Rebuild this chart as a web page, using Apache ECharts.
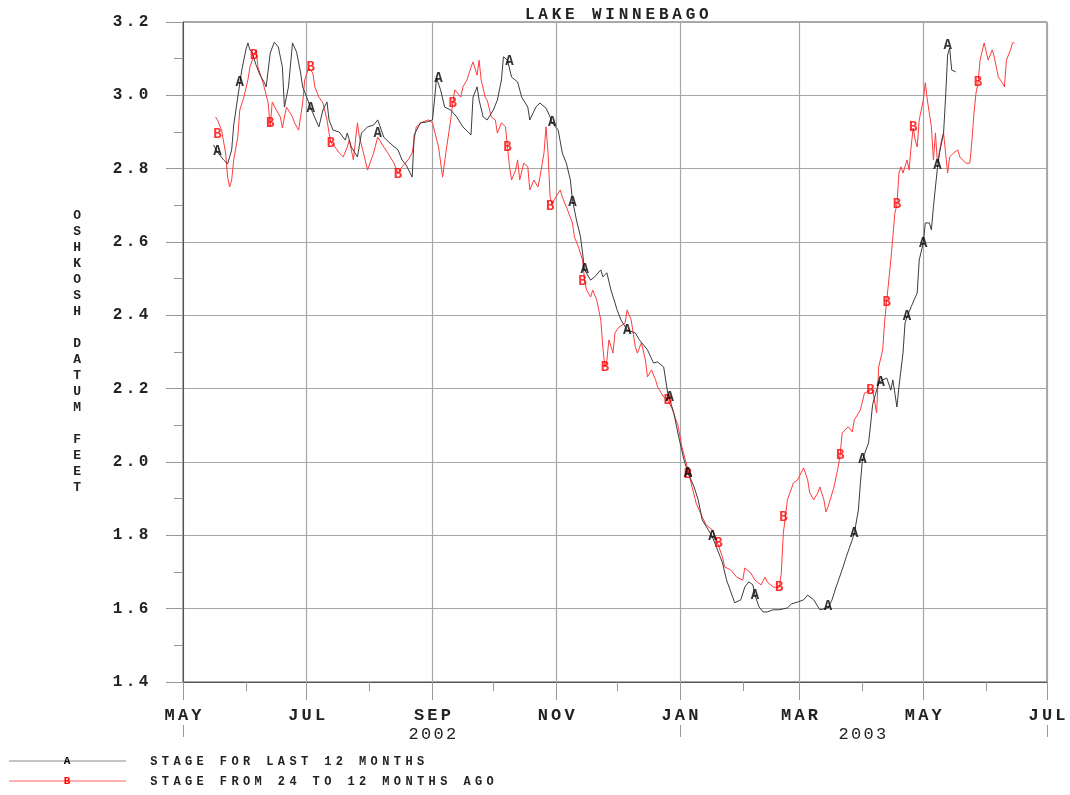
<!DOCTYPE html>
<html>
<head>
<meta charset="utf-8">
<script src="https://cdn.jsdelivr.net/npm/echarts@6/dist/echarts.min.js"></script>
<style>
  html, body { margin: 0; padding: 0; background: #fff; }
  #chart { width: 1070px; height: 795px; }
</style>
</head>
<body>
<div id="chart"></div>
<script>
// 横轴：2002-05-01 ~ 2003-07-01，每天一个类目
const startDay = Date.UTC(2002, 4, 1);
const endDay = Date.UTC(2003, 6, 1);
const dayList = [];
for (let t = startDay; t <= endDay; t += 86400000) {
  dayList.push(new Date(t).toISOString().slice(0, 10));
}

const monthNames = ["JAN", "FEB", "MAR", "APR", "MAY", "JUN", "JUL", "AUG", "SEP", "OCT", "NOV", "DEC"];
const yearLabelDays = ["2002-09-01", "2003-04-01"];
const yearLabelText = ["2002", "2003"];
const yearTickDays = ["2002-05-01", "2003-01-01", "2003-07-01"];

// 水位 (ft)，x 为自 2002-05-01 起的天数
const stageA = [
  [15, 2.865], [17, 2.845], [20, 2.824], [22, 2.813], [24, 2.851], [25, 2.919], [27, 2.995], [29, 3.069],
  [31, 3.124], [32, 3.143], [33, 3.124], [34, 3.118], [36, 3.083], [38, 3.055], [40, 3.036], [41, 3.023],
  [43, 3.115], [45, 3.145], [47, 3.132], [49, 3.077], [50, 2.968], [52, 3.023], [54, 3.143], [56, 3.118],
  [58, 3.061], [59, 3.023], [61, 2.995], [63, 2.965], [64, 2.952], [67, 2.914], [69, 2.96], [71, 2.982],
  [72, 2.933], [74, 2.905], [77, 2.9], [80, 2.878], [81, 2.897], [83, 2.859], [86, 2.832], [88, 2.897],
  [91, 2.914], [94, 2.919], [96, 2.933], [99, 2.886], [102, 2.87], [106, 2.851], [108, 2.824], [110, 2.81],
  [113, 2.777], [114, 2.892], [117, 2.925], [120, 2.927], [123, 2.933], [124, 2.987], [125, 3.047], [127, 3.015],
  [129, 2.968], [132, 2.96], [135, 2.941], [138, 2.914], [142, 2.892], [143, 2.995], [145, 3.023], [146, 2.987],
  [148, 2.941], [150, 2.933], [153, 2.96], [155, 2.987], [157, 3.042], [158, 3.105], [160, 3.096], [162, 3.05],
  [165, 3.036], [167, 2.995], [170, 2.968], [171, 2.933], [174, 2.968], [176, 2.979], [179, 2.965], [181, 2.941],
  [182, 2.925], [185, 2.905], [187, 2.843], [189, 2.815], [191, 2.769], [192, 2.715], [194, 2.66], [196, 2.614],
  [197, 2.57], [198, 2.524], [201, 2.496], [203, 2.505], [206, 2.524], [207, 2.505], [209, 2.516], [211, 2.469],
  [213, 2.434], [214, 2.415], [216, 2.387], [219, 2.36], [223, 2.352], [225, 2.333], [229, 2.306], [232, 2.27],
  [234, 2.273], [237, 2.259], [239, 2.188], [242, 2.134], [244, 2.079], [247, 2.006], [249, 1.97], [252, 1.932],
  [254, 1.897], [256, 1.842], [259, 1.815], [261, 1.796], [263, 1.768], [266, 1.725], [268, 1.678], [271, 1.632],
  [272, 1.616], [275, 1.624], [277, 1.659], [279, 1.673], [281, 1.665], [282, 1.637], [284, 1.605], [286, 1.591],
  [288, 1.591], [291, 1.597], [294, 1.597], [298, 1.602], [300, 1.613], [303, 1.618], [306, 1.624], [308, 1.637],
  [311, 1.624], [314, 1.597], [318, 1.602], [320, 1.624], [322, 1.659], [325, 1.706], [327, 1.741], [330, 1.788],
  [331, 1.806], [333, 1.869], [334, 1.943], [335, 2.006], [338, 2.052], [339, 2.101], [340, 2.156], [343, 2.216],
  [345, 2.224], [347, 2.229], [349, 2.196], [350, 2.224], [352, 2.15], [353, 2.205], [355, 2.297], [356, 2.379],
  [357, 2.396], [359, 2.423], [362, 2.461], [363, 2.551], [365, 2.597], [366, 2.652], [368, 2.652], [369, 2.633],
  [370, 2.696], [371, 2.75], [372, 2.802], [373, 2.843], [375, 2.897], [376, 2.995], [377, 3.11], [378, 3.129],
  [379, 3.069], [381, 3.064]
];

const stageB = [
  [16, 2.941], [17, 2.933], [19, 2.905], [21, 2.843], [22, 2.777], [23, 2.75], [24, 2.769], [25, 2.824],
  [27, 2.886], [28, 2.96], [30, 2.995], [32, 3.042], [33, 3.077], [35, 3.11], [36, 3.124], [37, 3.077],
  [39, 3.042], [40, 3.023], [42, 2.979], [43, 2.914], [44, 2.982], [46, 2.96], [48, 2.941], [49, 2.911],
  [51, 2.968], [54, 2.941], [55, 2.925], [57, 2.905], [59, 2.979], [60, 3.042], [62, 3.075], [64, 3.061],
  [65, 3.023], [67, 2.995], [69, 2.979], [71, 2.933], [72, 2.897], [73, 2.87], [75, 2.859], [77, 2.843],
  [79, 2.832], [81, 2.859], [82, 2.878], [84, 2.824], [86, 2.925], [87, 2.886], [89, 2.843], [91, 2.796],
  [94, 2.843], [96, 2.886], [99, 2.859], [101, 2.843], [104, 2.815], [106, 2.788], [108, 2.805], [111, 2.824],
  [113, 2.843], [115, 2.914], [118, 2.927], [121, 2.933], [123, 2.925], [126, 2.859], [128, 2.777], [130, 2.859],
  [132, 2.933], [133, 2.979], [134, 3.015], [137, 2.995], [138, 3.023], [140, 3.042], [142, 3.077], [143, 3.091],
  [145, 3.055], [146, 3.096], [147, 3.042], [149, 2.995], [150, 2.987], [152, 2.941], [154, 2.933], [155, 2.897],
  [157, 2.925], [159, 2.914], [160, 2.859], [161, 2.805], [162, 2.769], [164, 2.796], [165, 2.824], [166, 2.769],
  [168, 2.815], [170, 2.805], [171, 2.742], [173, 2.769], [175, 2.75], [176, 2.777], [178, 2.843], [179, 2.914],
  [180, 2.843], [181, 2.723], [182, 2.701], [183, 2.715], [186, 2.742], [187, 2.723], [189, 2.696], [192, 2.652],
  [193, 2.614], [195, 2.586], [197, 2.551], [198, 2.496], [199, 2.469], [201, 2.45], [202, 2.469], [204, 2.442],
  [206, 2.387], [207, 2.314], [208, 2.259], [209, 2.278], [210, 2.333], [212, 2.297], [213, 2.352], [215, 2.368],
  [218, 2.379], [219, 2.415], [221, 2.387], [223, 2.314], [224, 2.297], [226, 2.325], [228, 2.278], [229, 2.232],
  [231, 2.251], [233, 2.224], [234, 2.205], [237, 2.177], [239, 2.169], [241, 2.147], [244, 2.101], [246, 2.041],
  [249, 1.978], [251, 1.932], [253, 1.888], [256, 1.85], [258, 1.828], [261, 1.815], [263, 1.788], [266, 1.741],
  [267, 1.714], [270, 1.706], [273, 1.686], [276, 1.678], [277, 1.711], [280, 1.697], [282, 1.678], [285, 1.665],
  [287, 1.686], [288, 1.673], [291, 1.659], [294, 1.657], [295, 1.697], [296, 1.806], [297, 1.85], [298, 1.897],
  [301, 1.943], [303, 1.951], [306, 1.984], [308, 1.951], [309, 1.916], [311, 1.897], [313, 1.916], [314, 1.932],
  [316, 1.897], [317, 1.864], [318, 1.877], [321, 1.932], [323, 1.986], [324, 2.019], [325, 2.079], [328, 2.096],
  [330, 2.082], [331, 2.115], [334, 2.142], [336, 2.188], [339, 2.196], [340, 2.196], [342, 2.134], [343, 2.259],
  [345, 2.306], [346, 2.387], [348, 2.496], [349, 2.551], [350, 2.614], [351, 2.679], [352, 2.701], [353, 2.788],
  [354, 2.805], [355, 2.788], [357, 2.824], [358, 2.796], [359, 2.859], [360, 2.911], [361, 2.878], [362, 2.859],
  [363, 2.933], [365, 2.987], [366, 3.034], [367, 2.987], [369, 2.914], [370, 2.824], [371, 2.897], [372, 2.815],
  [374, 2.878], [375, 2.897], [377, 2.788], [378, 2.832], [380, 2.843], [382, 2.851], [383, 2.832], [386, 2.815],
  [388, 2.815], [389, 2.878], [390, 2.952], [391, 3.006], [392, 3.034], [393, 3.096], [395, 3.143], [397, 3.096],
  [399, 3.124], [400, 3.105], [402, 3.05], [404, 3.034], [405, 3.023], [406, 3.096], [408, 3.124], [409, 3.143],
  [410, 3.143]
];

// 曲线上的字母标记位置
const markA = [
  [17, 2.848], [28, 3.034], [63, 2.965], [96, 2.897], [126, 3.047], [161, 3.091], [182, 2.925], [192, 2.709],
  [198, 2.524], [219, 2.36], [240, 2.177], [249, 1.97], [261, 1.796], [282, 1.637], [318, 1.607], [331, 1.806],
  [335, 2.006], [344, 2.216], [357, 2.396], [365, 2.597], [372, 2.81], [377, 3.135]
];
const markB = [
  [17, 2.892], [35, 3.11], [43, 2.922], [63, 3.077], [73, 2.87], [106, 2.785], [133, 2.979], [160, 2.859],
  [181, 2.696], [197, 2.491], [208, 2.259], [239, 2.169], [249, 1.967], [264, 1.779], [294, 1.657], [296, 1.85],
  [324, 2.019], [339, 2.196], [347, 2.434], [352, 2.701], [360, 2.911], [392, 3.034]
];

const FONT = "Liberation Mono";

// 固定字距：每个字符放进固定宽度的 rich 片段
function spaced(str, key) {
  return str
    .split("")
    .map((ch) => "{" + key + "|" + (ch === " " ? "\u00a0" : ch) + "}")
    .join("");
}

function isMonthStart(v) {
  return v.slice(8) === "01";
}
function isOddMonthStart(v) {
  return isMonthStart(v) && parseInt(v.slice(5, 7), 10) % 2 === 1;
}

const chart = echarts.init(document.getElementById("chart"));

const option = {
  animation: false,
  backgroundColor: "#fff",
  title: {
    text: spaced("LAKE WINNEBAGO", "t"),
    left: 518,
    top: 2,
    textStyle: {
      rich: {
        t: { width: 13.4, align: "center", fontFamily: FONT, fontWeight: "bold", fontSize: 16, color: "#222" },
      },
    },
  },
  grid: {
    left: 183,
    right: 23,
    top: 22,
    bottom: 113,
    show: true,
    borderColor: "#555",
    borderWidth: 1,
    backgroundColor: "#fff",
  },
  xAxis: [
    {
      // 每月短刻度
      type: "category",
      data: dayList,
      boundaryGap: false,
      position: "bottom",
      axisLine: { show: true, lineStyle: { color: "#555", width: 1 } },
      axisTick: { show: true, length: 9, interval: (i, v) => isMonthStart(v), lineStyle: { color: "#999" } },
      axisLabel: { show: false },
      splitLine: { show: false },
    },
    {
      // 奇数月长刻度 + 月份标签 + 竖网格线
      type: "category",
      data: dayList,
      boundaryGap: false,
      position: "bottom",
      axisLine: { show: false },
      axisTick: { show: true, length: 18, interval: (i, v) => isOddMonthStart(v), lineStyle: { color: "#999" } },
      axisLabel: {
        show: true,
        interval: (i, v) => isOddMonthStart(v),
        margin: 25,
        formatter: (v) => spaced(monthNames[parseInt(v.slice(5, 7), 10) - 1], "m"),
        rich: {
          m: { width: 13.4, align: "center", fontFamily: FONT, fontWeight: "bold", fontSize: 17, color: "#222" },
        },
      },
      splitLine: { show: true, interval: (i, v) => isOddMonthStart(v), lineStyle: { color: "#a6a6a6", width: 1.2 } },
    },
    {
      // 年份标签与年份分界刻度
      type: "category",
      data: dayList,
      boundaryGap: false,
      position: "bottom",
      offset: 43,
      axisLine: { show: false },
      axisTick: { show: true, length: 12, interval: (i, v) => yearTickDays.indexOf(v) >= 0, lineStyle: { color: "#999" } },
      axisLabel: {
        show: true,
        interval: (i, v) => yearLabelDays.indexOf(v) >= 0,
        margin: 1,
        formatter: (v) => spaced(yearLabelText[yearLabelDays.indexOf(v)] || "", "y"),
        rich: {
          y: { width: 12.5, align: "center", fontFamily: FONT, fontSize: 17, color: "#222" },
        },
      },
      splitLine: { show: false },
    },
  ],
  yAxis: {
    type: "value",
    min: 1.4,
    max: 3.2,
    interval: 0.2,
    name: "OSHKOSH DATUM FEET".split("").map((c) => (c === " " ? "\u00a0" : c)).join("\n"),
    nameLocation: "middle",
    nameRotate: 0,
    nameGap: 102,
    nameTextStyle: { fontFamily: FONT, fontWeight: "bold", fontSize: 13, lineHeight: 16, color: "#222" },
    axisLine: { show: true, lineStyle: { color: "#555", width: 1 } },
    axisTick: { show: true, length: 17, lineStyle: { color: "#999" } },
    minorTick: { show: true, splitNumber: 2, length: 9, lineStyle: { color: "#999" } },
    minorSplitLine: { show: false },
    splitLine: { show: true, lineStyle: { color: "#a6a6a6", width: 1.2 } },
    axisLabel: {
      margin: 33,
      formatter: (v) => spaced(v.toFixed(1), "n"),
      rich: {
        n: { width: 13, align: "center", fontFamily: FONT, fontWeight: "bold", fontSize: 16, color: "#222" },
      },
    },
  },
  series: [
    {
      name: "B",
      type: "line",
      xAxisIndex: 0,
      data: stageB,
      showSymbol: false,
      lineStyle: { color: "#ff3c3c", width: 1 },
      z: 2,
    },
    {
      name: "A",
      type: "line",
      xAxisIndex: 0,
      data: stageA,
      showSymbol: false,
      lineStyle: { color: "#3c3c3c", width: 1 },
      z: 3,
    },
    {
      name: "B mark",
      type: "scatter",
      xAxisIndex: 0,
      data: markB,
      symbolSize: 1,
      itemStyle: { color: "rgba(0,0,0,0)" },
      label: { show: true, position: "inside", formatter: "B", color: "#f00", fontFamily: FONT, fontWeight: "bold", fontSize: 14 },
      silent: true,
      z: 4,
    },
    {
      name: "A mark",
      type: "scatter",
      xAxisIndex: 0,
      data: markA,
      symbolSize: 1,
      itemStyle: { color: "rgba(0,0,0,0)" },
      label: { show: true, position: "inside", formatter: "A", color: "#000", fontFamily: FONT, fontWeight: "bold", fontSize: 14 },
      silent: true,
      z: 5,
    },
  ],
  graphic: [
    { type: "line", shape: { x1: 9, y1: 761, x2: 126, y2: 761 }, style: { stroke: "#888", lineWidth: 1 } },
    { type: "text", x: 67, y: 761, style: { text: "A", fill: "#000", font: "bold 11px " + FONT, align: "center", verticalAlign: "middle" } },
    { type: "line", shape: { x1: 9, y1: 781, x2: 126, y2: 781 }, style: { stroke: "#ff6060", lineWidth: 1 } },
    { type: "text", x: 67, y: 781, style: { text: "B", fill: "#f00", font: "bold 11px " + FONT, align: "center", verticalAlign: "middle" } },
    {
      type: "text",
      x: 148,
      y: 762,
      style: {
        text: spaced("STAGE FOR LAST 12 MONTHS", "g"),
        verticalAlign: "middle",
        rich: { g: { width: 11.6, align: "center", fontFamily: FONT, fontWeight: "bold", fontSize: 12, fill: "#222" } },
      },
    },
    {
      type: "text",
      x: 148,
      y: 782,
      style: {
        text: spaced("STAGE FROM 24 TO 12 MONTHS AGO", "g"),
        verticalAlign: "middle",
        rich: { g: { width: 11.6, align: "center", fontFamily: FONT, fontWeight: "bold", fontSize: 12, fill: "#222" } },
      },
    },
  ],
};

chart.setOption(option);
</script>
</body>
</html>
